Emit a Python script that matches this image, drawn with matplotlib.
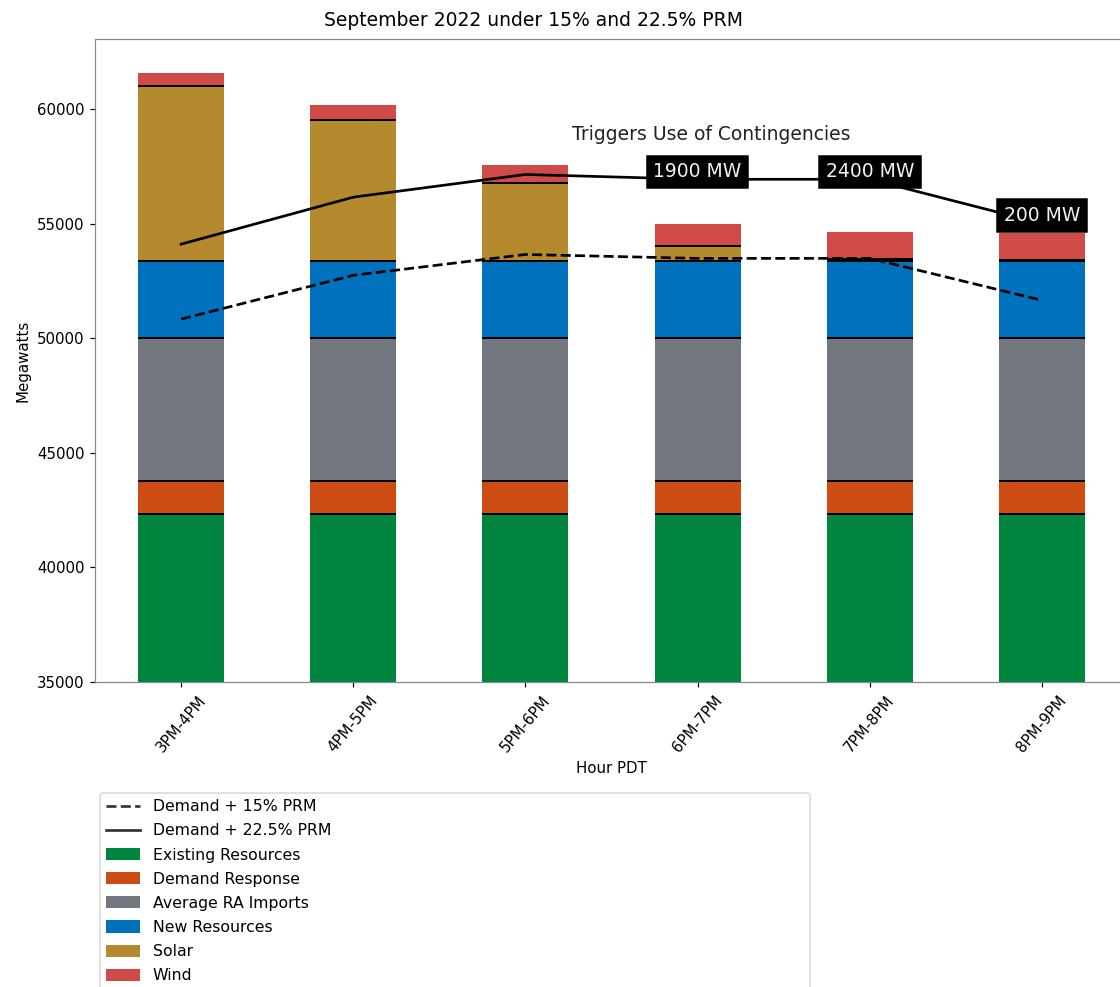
import numpy as np
import matplotlib.pyplot as plt
from matplotlib.lines import Line2D
from matplotlib.patches import Patch

hours = ["3PM-4PM", "4PM-5PM", "5PM-6PM", "6PM-7PM", "7PM-8PM", "8PM-9PM"]

existing = [42350, 42350, 42350, 42350, 42350, 42350]
demand_response = [1400, 1400, 1400, 1400, 1400, 1400]
ra_imports = [6250, 6250, 6250, 6250, 6250, 6250]
new_resources = [3350, 3350, 3350, 3350, 3350, 3350]
solar = [7640, 6160, 3400, 650, 100, 70]
wind = [590, 665, 800, 970, 1160, 1160]

prm_15 = [50830, 52740, 53650, 53480, 53480, 51650]
prm_225 = [54100, 56150, 57140, 56930, 56930, 55000]

shortfall_x = [3, 4, 5]
shortfall_y = [57260, 57260, 55350]
shortfall_text = ["1900 MW", "2400 MW", "200 MW"]

series = [
    ("Existing Resources", existing, "#00853f"),
    ("Demand Response", demand_response, "#cc4c14"),
    ("Average RA Imports", ra_imports, "#71767f"),
    ("New Resources", new_resources, "#0071bc"),
    ("Solar", solar, "#b5892e"),
    ("Wind", wind, "#d04a48"),
]

plt.rcParams['font.family'] = ['DejaVu Sans']
plt.rcParams['font.size'] = 10

fig = plt.figure(figsize=(1120 / 108, 987 / 108), dpi=108)
ax = fig.add_axes([95 / 1120, 1 - 682 / 987, 1033 / 1120, (682 - 39) / 987])

x = np.arange(len(hours))
width = 0.5
bottom = np.zeros(len(hours))
for i, (name, vals, col) in enumerate(series):
    vals = np.array(vals, dtype=float)
    ax.bar(x, vals, width, bottom=bottom, color=col, label=name, zorder=2)
    bottom = bottom + vals
    # thin black divider on top of each segment (not the last one)
    if i < len(series) - 1:
        ax.hlines(bottom, x - width / 2, x + width / 2, colors="black",
                  linewidth=1.3, zorder=3)

ax.plot(x, prm_15, "k--", linewidth=1.8, zorder=4)
ax.plot(x, prm_225, "k-", linewidth=1.8, zorder=4)

ax.text(3.08, 58870, "Triggers Use of Contingencies", ha="center", va="center",
        fontsize=12.5, color="#222222", zorder=5)
for xi, yi, t in zip(shortfall_x, shortfall_y, shortfall_text):
    ax.text(xi, yi, t, ha="center", va="center", fontsize=12.5, color="#f2f2f2",
            zorder=6, bbox=dict(boxstyle="square,pad=0.35", facecolor="black",
                                edgecolor="black"))

ax.set_xlim(-0.5, 5.5)
ax.set_ylim(35000, 63050)
ax.set_xticks(x)
ax.set_xticklabels(hours, rotation=50, ha="center")
ax.set_yticks([35000, 40000, 45000, 50000, 55000, 60000])
ax.set_xlabel("Hour PDT")
ax.set_ylabel("Megawatts")
# figure is cropped on the right, so the title sits left of the axes centre
ax.set_title("September 2022 under 15% and 22.5% PRM", fontsize=12.5,
             x=(534 - 95) / 1033, pad=8.5)
for s in ax.spines.values():
    s.set_color("#888888")

handles = [Line2D([], [], color="#333333", linestyle="--", linewidth=1.8),
           Line2D([], [], color="#333333", linestyle="-", linewidth=1.8)]
labels = ["Demand + 15% PRM", "Demand + 22.5% PRM"]
for name, vals, col in series:
    handles.append(Patch(facecolor=col))
    labels.append(name)

fig.legend(handles, labels, loc="upper left", mode="expand",
           bbox_to_anchor=(100 / 1120, 0, 710 / 1120, 1 - 793 / 987),
           borderaxespad=0, fontsize=10.5, handlelength=2.15,
           handleheight=0.8, labelspacing=0.58)

fig.savefig("out.png", dpi=108)
